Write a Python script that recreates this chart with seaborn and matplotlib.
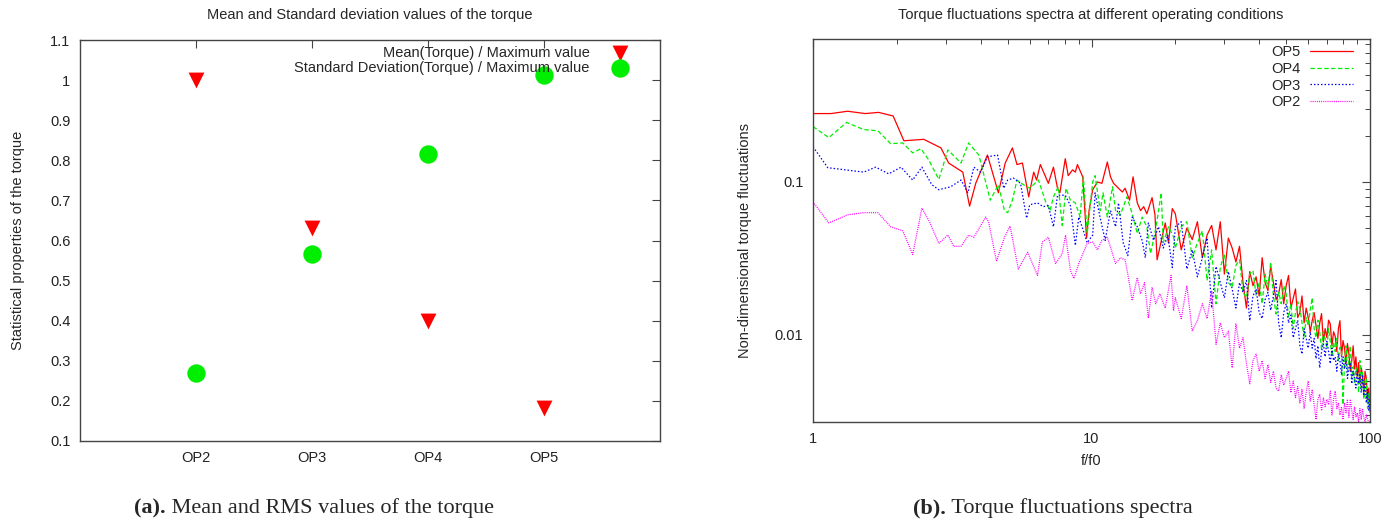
import numpy as np
import pandas as pd
import matplotlib
matplotlib.use('Agg')
import matplotlib.pyplot as plt
import matplotlib.ticker as mticker
import seaborn as sns

# ---- panel (a): normalised mean / std of the torque
ops = ['OP2', 'OP3', 'OP4', 'OP5']
mean_vals = [1.0, 0.63, 0.40, 0.183]
std_vals = [0.27, 0.567, 0.815, 1.013]

# ---- panel (b): torque fluctuation spectra
f_high = [20, 21, 22, 23, 24, 25, 26, 27, 28, 29,
          30, 31, 32, 33, 34, 35, 36, 37, 38, 39,
          40, 41, 42, 43, 44, 45, 46, 47, 48, 49,
          50, 51, 52, 53, 54, 55, 56, 57, 58, 59,
          60, 61, 62, 63, 64, 65, 66, 67, 68, 69,
          70, 71, 72, 73, 74, 75, 76, 77, 78, 79,
          80, 81, 82, 83, 84, 85, 86, 87, 88, 89,
          90, 91, 92, 93, 94, 95, 96, 97, 98, 99,
          100]

op5_f = [1.0, 1.16, 1.33, 1.54, 1.72, 1.94, 2.12, 2.5, 2.88, 3.07, 3.45, 3.65, 3.84,
         4.23, 4.63, 4.9, 5.2, 5.4, 5.65, 5.95, 6.2, 6.35, 6.55, 7.0, 7.3, 7.55, 7.7,
         8.05, 8.25, 8.55, 8.75, 8.9, 9.3, 9.6, 9.8, 10.1, 10.5, 10.9, 11.4, 11.7,
         12.0, 12.5, 12.9, 13.2, 13.7, 14.1, 14.6, 15.0, 15.4, 15.8, 16.5, 16.9,
         17.2, 17.9, 18.4, 18.9, 19.5]
op5_v = [0.28, 0.28, 0.29, 0.28, 0.285, 0.27, 0.186, 0.19, 0.167, 0.133, 0.116, 0.0695, 0.098,
         0.15, 0.085, 0.133, 0.167, 0.13, 0.133, 0.08, 0.116, 0.103, 0.13, 0.098, 0.125, 0.091, 0.085,
         0.142, 0.11, 0.12, 0.116, 0.13, 0.108, 0.043, 0.065, 0.089, 0.1, 0.098, 0.135, 0.108,
         0.098, 0.091, 0.086, 0.091, 0.076, 0.108, 0.073, 0.065, 0.069, 0.062, 0.079, 0.061,
         0.031, 0.043, 0.054, 0.04, 0.067]
op5_high = [0.062, 0.036, 0.05, 0.042, 0.055, 0.032, 0.045, 0.052, 0.036, 0.055,
            0.025, 0.043, 0.037, 0.03, 0.038, 0.022, 0.015, 0.026, 0.021, 0.024,
            0.018, 0.032, 0.022, 0.0195, 0.028, 0.022, 0.017, 0.0186, 0.023, 0.016,
            0.021, 0.0245, 0.015, 0.0173, 0.02, 0.013, 0.014, 0.018, 0.012, 0.015,
            0.013, 0.0105, 0.0124, 0.014, 0.0115, 0.0095, 0.012, 0.0138, 0.009, 0.011,
            0.0096, 0.0125, 0.0118, 0.0085, 0.0105, 0.0098, 0.0078, 0.011, 0.0124, 0.0072,
            0.0092, 0.0082, 0.0065, 0.0088, 0.0075, 0.0058, 0.0068, 0.0085, 0.006, 0.0072,
            0.0052, 0.0066, 0.0048, 0.0061, 0.0055, 0.0042, 0.0058, 0.0052, 0.0036, 0.0045,
            0.0032]

op4_f = [1.0, 1.14, 1.32, 1.52, 1.71, 1.9, 2.1, 2.28, 2.44, 2.6, 2.83, 3.05, 3.4, 3.62, 3.94,
         4.33, 4.63, 4.87, 5.0, 5.2, 5.4, 5.7, 6.0, 6.45, 6.85, 7.1, 7.3, 7.6, 7.85, 8.1,
         8.4, 8.75, 9.1, 9.35, 9.65, 10.1, 10.3, 10.75, 11.0, 11.4, 11.9, 12.2, 12.7, 13.4,
         14.0, 14.6, 15.2, 15.8, 16.3, 16.7, 17.2, 17.8, 18.1, 18.9, 19.7]
op4_v = [0.23, 0.195, 0.245, 0.22, 0.216, 0.178, 0.18, 0.155, 0.165, 0.14, 0.104, 0.162, 0.133, 0.18, 0.15,
         0.076, 0.096, 0.065, 0.063, 0.076, 0.103, 0.096, 0.091, 0.103, 0.074, 0.065, 0.08, 0.093, 0.052, 0.091,
         0.076, 0.073, 0.059, 0.108, 0.046, 0.1, 0.11, 0.065, 0.085, 0.059, 0.093, 0.065, 0.061, 0.08,
         0.062, 0.046, 0.059, 0.051, 0.034, 0.042, 0.056, 0.085, 0.04, 0.051, 0.044]
op4_high = [0.037, 0.051, 0.055, 0.032, 0.04, 0.048, 0.0227, 0.036, 0.016, 0.0276,
            0.034, 0.022, 0.0205, 0.0285, 0.031, 0.019, 0.0175, 0.025, 0.0264, 0.018,
            0.022, 0.016, 0.025, 0.0205, 0.03, 0.018, 0.0137, 0.019, 0.016, 0.021,
            0.0186, 0.013, 0.016, 0.011, 0.014, 0.0165, 0.015, 0.012, 0.0096, 0.013,
            0.0115, 0.0145, 0.0175, 0.011, 0.0096, 0.0125, 0.0105, 0.008, 0.0105, 0.0095,
            0.0082, 0.011, 0.0091, 0.0072, 0.009, 0.0078, 0.0095, 0.0068, 0.0083, 0.0079,
            0.0035, 0.0065, 0.0085, 0.0058, 0.007, 0.0085, 0.0052, 0.0062, 0.0048, 0.0061,
            0.0055, 0.0042, 0.0068, 0.0045, 0.0058, 0.0038, 0.005, 0.0052, 0.0033, 0.0042,
            0.003]

op3_f = [1.0, 1.13, 1.31, 1.52, 1.68, 1.87, 2.07, 2.28, 2.46, 2.67, 2.83, 3.12, 3.4, 3.6, 3.78,
         4.0, 4.23, 4.6, 4.84, 5.0, 5.25, 5.56, 5.85, 6.0, 6.4, 6.7, 7.0, 7.3, 7.55, 8.05,
         8.4, 8.75, 9.0, 9.35, 9.65, 10.1, 10.3, 10.75, 11.2, 11.7, 12.2, 12.5, 13.0, 13.5,
         14.0, 14.6, 15.2, 15.6, 16.0, 16.7, 17.4, 18.1, 18.8, 19.5]
op3_v = [0.17, 0.124, 0.12, 0.116, 0.125, 0.113, 0.125, 0.103, 0.125, 0.096, 0.089, 0.093, 0.103, 0.085, 0.125,
         0.116, 0.146, 0.15, 0.091, 0.103, 0.106, 0.098, 0.058, 0.071, 0.073, 0.069, 0.07, 0.051, 0.082, 0.082,
         0.07, 0.0385, 0.059, 0.048, 0.04, 0.045, 0.085, 0.058, 0.0415, 0.065, 0.051, 0.073, 0.04, 0.033,
         0.059, 0.051, 0.0415, 0.032, 0.054, 0.0415, 0.051, 0.037, 0.045, 0.0276]
op3_high = [0.051, 0.055, 0.027, 0.036, 0.024, 0.032, 0.043, 0.015, 0.028, 0.022,
            0.0175, 0.026, 0.02, 0.015, 0.022, 0.019, 0.0227, 0.0124, 0.018, 0.02,
            0.014, 0.0128, 0.017, 0.019, 0.0145, 0.018, 0.0227, 0.012, 0.0096, 0.014,
            0.016, 0.012, 0.0135, 0.0096, 0.011, 0.0125, 0.0085, 0.0075, 0.011, 0.0095,
            0.0082, 0.0105, 0.0082, 0.0095, 0.007, 0.0085, 0.0061, 0.0078, 0.0088, 0.0072,
            0.0091, 0.0078, 0.0065, 0.0082, 0.0068, 0.0072, 0.0058, 0.0075, 0.0068, 0.0055,
            0.0072, 0.006, 0.0068, 0.0052, 0.0061, 0.0066, 0.0048, 0.0058, 0.0052, 0.0045,
            0.0058, 0.0048, 0.0055, 0.0042, 0.0055, 0.004, 0.0048, 0.0036, 0.0044, 0.0032,
            0.0038]

op2_f = [1.0, 1.14, 1.33, 1.52, 1.71, 1.9, 2.1, 2.28, 2.46, 2.62, 2.83, 3.05, 3.2, 3.4, 3.62, 3.78,
         4.17, 4.27, 4.56, 4.87, 5.1, 5.46, 5.9, 6.4, 6.66, 7.0, 7.43, 7.85, 8.07, 8.4, 8.65,
         9.0, 9.65, 10.1, 10.5, 10.9, 11.4, 11.9, 12.2, 12.7, 13.2, 13.5, 14.0, 14.6, 15.0,
         15.5, 16.0, 16.5, 17.0, 17.6, 18.4, 19.3, 19.7]
op2_v = [0.074, 0.054, 0.061, 0.063, 0.063, 0.051, 0.048, 0.0336, 0.0675, 0.055, 0.0397, 0.045, 0.038, 0.038, 0.045, 0.0435,
         0.059, 0.055, 0.0303, 0.0435, 0.0515, 0.027, 0.0347, 0.0245, 0.0405, 0.0435, 0.0293, 0.034, 0.045, 0.0264, 0.0234,
         0.0293, 0.0397, 0.0405, 0.036, 0.0415, 0.0435, 0.034, 0.0293, 0.032, 0.031, 0.025, 0.0168, 0.0237, 0.0186,
         0.022, 0.0129, 0.0205, 0.016, 0.0186, 0.015, 0.0245, 0.0144]
op2_high = [0.0175, 0.0128, 0.021, 0.0106, 0.0124, 0.016, 0.0128, 0.0195, 0.0087, 0.012,
            0.0096, 0.0106, 0.0061, 0.0118, 0.0082, 0.0096, 0.0065, 0.0048, 0.0068, 0.0075,
            0.0058, 0.0068, 0.0052, 0.0064, 0.0049, 0.0058, 0.0045, 0.0043, 0.0055, 0.0047,
            0.0052, 0.0058, 0.0042, 0.005, 0.0039, 0.0046, 0.0036, 0.0044, 0.0033, 0.0042,
            0.005, 0.0037, 0.0044, 0.0035, 0.0028, 0.0038, 0.0041, 0.0032, 0.0039, 0.0034,
            0.0038, 0.0035, 0.0043, 0.003, 0.0038, 0.0043, 0.0033, 0.0036, 0.003, 0.0034,
            0.0028, 0.0036, 0.0031, 0.0038, 0.0029, 0.0038, 0.0032, 0.0028, 0.0034, 0.0029,
            0.0031, 0.0027, 0.0033, 0.0028, 0.0033, 0.0029, 0.0027, 0.003, 0.0028, 0.0027,
            0.0027]

series = [('OP5', op5_f, op5_v, op5_high, '#ff0000', '-'),
          ('OP4', op4_f, op4_v, op4_high, '#00ee00', (0, (3.5, 2))),
          ('OP3', op3_f, op3_v, op3_high, '#0000ff', (0, (1.2, 1.6))),
          ('OP2', op2_f, op2_v, op2_high, '#ff00ff', (0, (0.8, 0.9)))]

sns.set_style('white')
plt.rcParams['font.family'] = ['Liberation Sans', 'DejaVu Sans']
plt.rcParams['font.size'] = 10.5
edge = '#444444'

fig = plt.figure(figsize=(14, 5.22), dpi=100)
ax1 = fig.add_axes([80/1400, 1-441/522, 580/1400, 401/522])
ax2 = fig.add_axes([813/1400, 1-422/522, 557/1400, 383/522])

# ----- left panel
sns.scatterplot(x=ops, y=mean_vals, marker='v', color='#ff0000', s=130, linewidth=0, ax=ax1, legend=False)
sns.scatterplot(x=ops, y=std_vals, marker='o', color='#00ee00', s=175, linewidth=0, ax=ax1, legend=False)
ax1.set_xlim(-1, 4)
ax1.set_ylim(0.1, 1.1)
ax1.set_yticks([0.1, 0.2, 0.3, 0.4, 0.5, 0.6, 0.7, 0.8, 0.9, 1.0, 1.1])
ax1.yaxis.set_major_formatter(mticker.FuncFormatter(lambda v, p: '%g' % round(v, 2)))
ax1.set_xlabel('')
ax1.set_ylabel('')
ax1.tick_params(direction='in', top=True, right=True, length=6, width=0.8, color=edge, pad=7)

# legend drawn gnuplot style: right aligned text followed by the symbol
ax1.text(0.879, 0.968, 'Mean(Torque) / Maximum value', transform=ax1.transAxes, ha='right', va='center')
ax1.text(0.879, 0.930, 'Standard Deviation(Torque) / Maximum value', transform=ax1.transAxes, ha='right', va='center')
ax1.scatter([0.931], [0.968], marker='v', color='#ff0000', s=130, linewidths=0, transform=ax1.transAxes, clip_on=False)
ax1.scatter([0.931], [0.930], marker='o', color='#00ee00', s=175, linewidths=0, transform=ax1.transAxes, clip_on=False)

# ----- right panel
ax2.set_xscale('log')
ax2.set_yscale('log')
for name, fl, vl, vh, col, ls in series:
    sns.lineplot(x=fl + f_high, y=vl + vh, ax=ax2, color=col, lw=0.9, linestyle=ls, label=name)
ax2.set_xlim(1, 100)
ax2.set_ylim(0.0027, 0.86)
fmt = mticker.FuncFormatter(lambda v, p: '%g' % v)
ax2.xaxis.set_major_formatter(fmt)
ax2.yaxis.set_major_formatter(fmt)
ax2.xaxis.set_minor_formatter(mticker.NullFormatter())
ax2.yaxis.set_minor_formatter(mticker.NullFormatter())
ax2.tick_params(which='major', direction='in', top=True, right=True, length=6, width=0.8, color=edge, pad=7)
ax2.tick_params(which='minor', direction='in', top=True, right=True, length=3.5, width=0.7, color=edge)
ax2.set_xlabel('f/f0', labelpad=6)
ax2.set_ylabel('')
ax2.legend(loc='upper right', bbox_to_anchor=(0.97, 0.985), frameon=False, markerfirst=False,
           handlelength=3.0, handletextpad=0.6, labelspacing=0.2, borderpad=0, borderaxespad=0)

for ax in (ax1, ax2):
    for sp in ax.spines.values():
        sp.set_color(edge)
        sp.set_linewidth(1.0)
    ax.tick_params(labelcolor='#222222')

fig.text(18/1400, 1-240/522, 'Statistical properties of the torque', rotation=90, ha='center', va='center')
fig.text(745/1400, 1-240/522, 'Non-dimensional torque fluctuations', rotation=90, ha='center', va='center')
fig.text(370/1400, 1-15/522, 'Mean and Standard deviation values of the torque', ha='center', va='center')
fig.text(1091/1400, 1-15/522, 'Torque fluctuations spectra at different operating conditions', ha='center', va='center')

# captions: bold tag followed by regular text
for x0, tag, txt in [(134/1400, '(a).', ' Mean and RMS values of the torque'),
                     (913/1400, '(b).', ' Torque fluctuations spectra')]:
    t1 = fig.text(x0, 1-508/522, tag, family='Liberation Serif', fontsize=16, fontweight='bold',
                  ha='left', va='center')
    ax1.annotate(txt, xy=(1, 0), xycoords=t1, ha='left', va='bottom', family='Liberation Serif',
                 fontsize=16, annotation_clip=False)

fig.savefig('out.png', dpi=100)
